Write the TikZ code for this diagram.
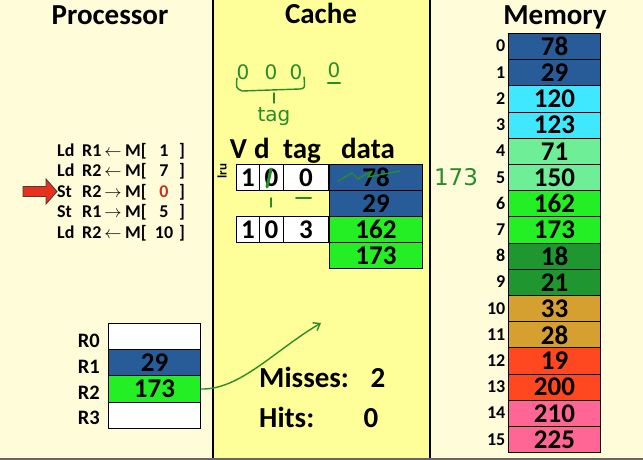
\documentclass[tikz,border=0pt]{standalone}
\usepackage{fontspec}
\setmainfont{Carlito}
\newfontfamily\handfont{DejaVu Sans}
\usetikzlibrary{arrows.meta}
\definecolor{cream}{RGB}{255,252,218}
\definecolor{cacheY}{RGB}{255,255,153}
\definecolor{mblue}{RGB}{40,92,152}
\definecolor{mcyan}{RGB}{64,232,255}
\definecolor{mmint}{RGB}{110,238,150}
\definecolor{mgreen}{RGB}{36,238,36}
\definecolor{mdkgreen}{RGB}{32,150,48}
\definecolor{mgold}{RGB}{214,160,48}
\definecolor{mred}{RGB}{255,72,32}
\definecolor{mpink}{RGB}{255,102,150}
\definecolor{pen}{RGB}{40,140,40}
\definecolor{ptrred}{RGB}{232,48,28}
\definecolor{numred}{RGB}{200,50,30}
\tikzset{
  title/.style={font=\bfseries\fontsize{29}{30}\selectfont, anchor=base, inner sep=0},
  bignum/.style={font=\bfseries\fontsize{27}{27}\selectfont},
  cell/.style={draw=black, line width=1pt, minimum width=92pt, minimum height=26.2pt, inner sep=0, anchor=north west, bignum},
  tcell/.style={draw=black, line width=1pt, fill=white, minimum height=26pt, inner sep=0, anchor=north west, bignum},
  idx/.style={font=\bfseries\fontsize{18}{18}\selectfont, anchor=base east, inner sep=0},
  instr/.style={font=\bfseries\fontsize{18}{18}\selectfont, inner sep=0},
  reglbl/.style={font=\bfseries\fontsize{20.5}{21}\selectfont, anchor=base east, inner sep=0},
  stat/.style={font=\bfseries\fontsize{29}{29}\selectfont, inner sep=0},
  pen/.style={draw=pen, line width=1.4pt, line cap=round, line join=round},
  hand/.style={text=pen, font=\handfont\fontsize{20}{20}\selectfont, inner sep=0},
}
\begin{document}
\begin{tikzpicture}[x=1pt, y=-1pt]
\useasboundingbox (0,0) rectangle (643,460);
\fill[cream] (0,0) rectangle (643,460);
\fill[cacheY] (213,0) rectangle (430,458);
\draw[line width=1.5pt] (213,0) -- (213,458) (430,0) -- (430,458);
\draw[black!60, line width=2pt] (0,459) -- (643,459);

% titles
\node[title] (tproc) at (110,25) {Processor};
\node[title] (tcache) at (321,24) {Cache};
\node[title] (tmem) at (555,25) {Memory};

% memory
\foreach \v/\c [count=\i from 0] in {78/mblue,29/mblue,120/mcyan,123/mcyan,71/mmint,150/mmint,162/mgreen,173/mgreen,18/mdkgreen,21/mdkgreen,33/mgold,28/mgold,19/mred,200/mred,210/mpink,225/mpink}{
  \node[cell, fill=\c] (m\i) at (508,{33+\i*26.2}) {\v};
  \node[idx] (mi\i) at (505.5,{52+\i*26.2}) {\i};
}

% instructions
\foreach \op/\r/\ar/\n/\col [count=\k] in {Ld/R1/\leftarrow/1/black, Ld/R2/\leftarrow/7/black, St/R2/\rightarrow/0/numred, St/R1/\rightarrow/5/black, Ld/R2/\leftarrow/10/black}{
  \pgfmathsetmacro{\yy}{156+(\k-1)*20.5}
  \node[instr, anchor=base west] (op\k) at (57,\yy) {\op};
  \node[instr, anchor=base west] (rg\k) at (82,\yy) {\r};
  \node[instr, anchor=base] (ar\k) at (113,\yy) {$\ar$};
  \node[instr, anchor=base west] (mb\k) at (125,\yy) {M[};
  \node[instr, anchor=base, text=\col] (nm\k) at (164,\yy) {\n};
  \node[instr, anchor=base] (cb\k) at (182,\yy) {]};
}
% instruction pointer
\filldraw[fill=ptrred, draw=black!75, line width=0.9pt, line join=miter]
  (23,186.5) -- (46,186.5) -- (46,179) -- (57,191.5) -- (46,204) -- (46,196.5) -- (23,196.5) -- cycle;

% registers
\node[cell, fill=white] (r0) at (108,323) {};
\node[cell, fill=mblue] (r1) at (108,349.2) {29};
\node[cell, fill=mgreen] (r2) at (108,375.4) {173};
\node[cell, fill=white] (r3) at (108,401.6) {};
\node[reglbl] (l0) at (100,347) {R0};
\node[reglbl] (l1) at (100,373) {R1};
\node[reglbl] (l2) at (100,399) {R2};
\node[reglbl] (l3) at (100,424) {R3};

% cache header
\node[title] (hv) at (238.5,158) {V};
\node[title] (hd) at (262,158) {d};
\node[title] (ht) at (302,158) {tag};
\node[title] (hdata) at (368,158) {data};
\node[font=\bfseries\fontsize{13}{13}\selectfont, rotate=90, inner sep=0] (lru) at (222,171) {lru};

% cache lines
\node[tcell, minimum width=23pt] (v1) at (236,164) {1};
\node[tcell, minimum width=24pt] (d1) at (259,164) {0};
\node[tcell, minimum width=45pt] (t1) at (283,164) {0};
\node[tcell, minimum width=23pt] (v2) at (236,216) {1};
\node[tcell, minimum width=24pt] (d2) at (259,216) {0};
\node[tcell, minimum width=45pt] (t2) at (283,216) {3};
\node[cell, minimum width=93pt, minimum height=26pt, fill=mblue] (c1) at (329,164) {78};
\node[cell, minimum width=93pt, minimum height=26pt, fill=mblue] (c2) at (329,190) {29};
\node[cell, minimum width=93pt, minimum height=26pt, fill=mgreen] (c3) at (329,216) {162};
\node[cell, minimum width=93pt, minimum height=26pt, fill=mgreen] (c4) at (329,242) {173};

% stats
\node[stat, anchor=base west] (miss) at (259,387) {Misses:};
\node[stat, anchor=base] (missn) at (378,387) {2};
\node[stat, anchor=base west] (hits) at (259,427) {Hits:};
\node[stat, anchor=base] (hitsn) at (371,427) {0};

% handwriting
\node[hand] (h1) at (243,72) {0};
\node[hand] (h2) at (271,72) {0};
\node[hand] (h3) at (296,72) {0};
\node[hand] (h4) at (334,70) {0};
\draw[pen, line width=2.2pt] (328,83) -- (340,83);
\draw[pen] (237,78) .. controls (236,88) .. (242,91) -- (300,89) .. controls (305,88) .. (304,77);
\draw[pen] (274,93) -- (274,103);
\node[hand] (htag) at (274,117) {tag};
\node[hand, font=\handfont\fontsize{23}{23}\selectfont] (h173) at (456,177) {173};
\draw[pen, line width=3pt] (271,169) -- (267,187);
\draw[pen] (338,181) -- (352,173) -- (358,179) -- (372,171) -- (368,177) -- (400,171);
\draw[pen] (271,198) -- (271,207);
\draw[pen, line width=2pt] (296,198) -- (311,198);
\coordinate (tip) at (321,323);
\draw[pen, -{Straight Barb[length=6pt,width=9pt]}] (r2.east) .. controls (240,390) and (275,350) .. (tip);
\end{tikzpicture}
\end{document}
